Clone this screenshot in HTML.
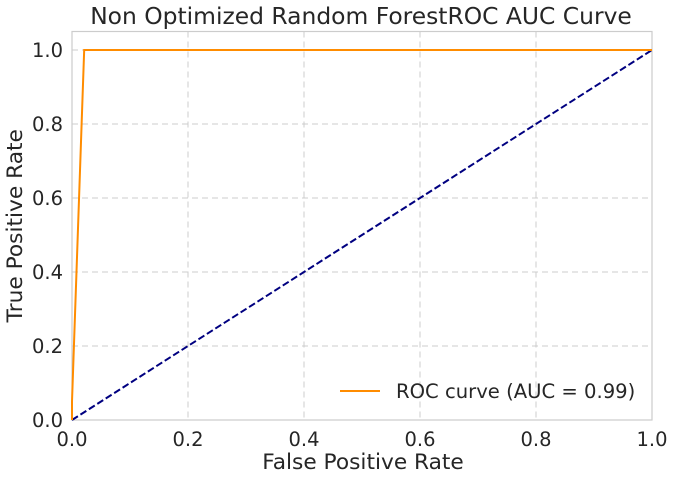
<!DOCTYPE html>
<html><head><meta charset="utf-8"><style>
body{margin:0;background:#fff;}
svg text{font-family:"DejaVu Sans","Liberation Sans",sans-serif;fill:#262626;}
</style></head><body>
<svg width="674" height="479" id="chart"></svg>
<script>
const xTicks=[0,0.2,0.4,0.6,0.8,1.0];
const yTicks=[0,0.2,0.4,0.6,0.8,1.0];
const tickLabels=["0.0","0.2","0.4","0.6","0.8","1.0"];
const rocFpr=[0,0,0.021,1];
const rocTpr=[0,0.05,1,1];
const diagX=[0,1];
const diagY=[0,1];
const NS="http://www.w3.org/2000/svg";
const svg=document.getElementById('chart');
const L=72,R=652,B=420,T=31.5;
const sx=v=>L+v*(R-L);
const sy=v=>B-v*(B-T)/1.05;
function mk(t,a,p){const e=document.createElementNS(NS,t);for(const k in a)e.setAttribute(k,a[k]);(p||svg).appendChild(e);return e;}
const grid=mk('g',{});


xTicks.forEach(v=>{mk('line',{x1:sx(v),x2:sx(v),y1:T,y2:B,stroke:'#cccccc','stroke-dasharray':'6,4','stroke-width':1},grid);});
yTicks.forEach(v=>{mk('line',{x1:L,x2:R,y1:sy(v),y2:sy(v),stroke:'#cccccc','stroke-dasharray':'6,4','stroke-width':1},grid);});
const frame=mk('rect',{x:L,y:T,width:R-L,height:B-T,fill:'none',stroke:'#cccccc','stroke-width':1.2});


const diag=mk('polyline',{points:diagX.map((v,i)=>sx(v)+','+sy(diagY[i])).join(' '),fill:'none',stroke:'#000080','stroke-width':2,'stroke-dasharray':'7,3'});


const roc=mk('polyline',{points:rocFpr.map((v,i)=>sx(v)+','+sy(rocTpr[i])).join(' '),fill:'none',stroke:'#ff8c00','stroke-width':2});


xTicks.forEach((v,i)=>{const t=mk('text',{x:sx(v),y:B+26,'text-anchor':'middle','font-size':19.5});t.textContent=tickLabels[i];

});
yTicks.forEach((v,i)=>{const t=mk('text',{x:L-9,y:sy(v)+7,'text-anchor':'end','font-size':19.5});t.textContent=tickLabels[i];

});
const xt=mk('text',{x:(L+R)/2+1,y:469,'text-anchor':'middle','font-size':21.7});xt.textContent='False Positive Rate';


const yt=mk('text',{x:22,y:(T+B)/2,'text-anchor':'middle','font-size':21.7,transform:'rotate(-90 22 '+((T+B)/2)+')'});yt.textContent='True Positive Rate';


const title=mk('text',{x:(L+R)/2-1,y:24,'text-anchor':'middle','font-size':23.4});title.textContent='Non Optimized Random ForestROC AUC Curve';


const lg=mk('g',{});


mk('line',{x1:340,x2:380,y1:391,y2:391,stroke:'#ff8c00','stroke-width':2},lg);
const lt=mk('text',{x:396,y:398,'font-size':19.6},lg);lt.textContent='ROC curve (AUC = 0.99)';
</script>
</body></html>
